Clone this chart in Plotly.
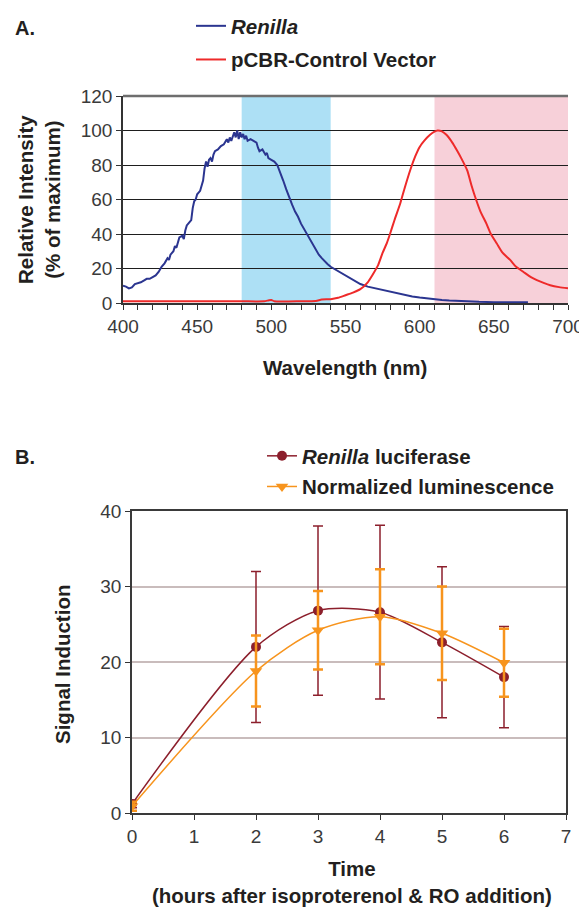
import plotly.graph_objects as go

# ---- panel A: emission spectra ----
renilla_nm = [400, 402, 404, 406, 408, 410, 412, 414, 416, 418, 420, 422, 424, 426, 428,
              430, 431, 432, 434, 435, 436, 437, 438, 440, 441, 442, 443, 445, 446, 447,
              448, 449, 450, 452, 453, 454, 455, 456, 457, 458, 459, 460, 461, 462, 464,
              466, 468, 469, 470, 471, 472, 473, 474, 475, 476, 477, 478, 479, 480, 481,
              482, 483, 484, 486, 488, 490, 491, 492, 494, 496, 497, 498, 500, 502, 504,
              506, 508, 510, 512, 514, 516, 518, 520, 522, 524, 526, 528, 530, 532, 534,
              536, 538, 540, 544, 548, 552, 556, 560, 565, 570, 575, 580, 585, 590, 595,
              600, 605, 610, 615, 620, 625, 630, 640, 650, 660, 673]
renilla_int = [10, 9.5, 8.5, 9, 11, 11.5, 12, 13, 14, 14, 15, 16, 18, 21, 23,
               26, 25, 28, 30, 33, 32, 35, 38, 39, 37, 42, 45, 47, 48, 55,
               59, 60, 63, 65, 69, 71, 78, 82, 79, 83, 84, 82, 86, 88, 89,
               91, 92, 94, 95, 93, 96, 94, 97, 99, 96, 100, 95, 99, 96, 98,
               95, 97, 94, 95, 94, 93, 90, 88, 89, 86, 87, 84, 83, 82, 80,
               76, 71, 66, 61, 57, 53, 50, 46, 43, 40, 37, 34, 31, 28, 26,
               24, 22.5, 21, 19, 16.5, 15, 13, 11, 9.5, 8.5, 7.5, 6.5, 5.5, 4.5, 3.8,
               3.2, 2.6, 2.2, 1.8, 1.5, 1.2, 1.0, 0.7, 0.5, 0.5, 0.5]

cbr_nm = [400, 420, 450, 480, 495, 498, 500, 502, 520, 530, 534, 540, 545, 550, 555,
          560, 565, 568, 572, 575, 578, 580, 583, 587, 590, 594, 597, 600, 603, 607,
          610, 612, 615, 618, 622, 625, 628, 632, 635, 638, 641, 645, 648, 652, 656,
          661, 665, 670, 675, 679, 684, 688, 694, 700]
cbr_int = [1, 1, 1, 1, 1, 1.5, 1.8, 1, 1, 1.2, 2, 2.2, 3, 4.5, 6,
           8, 12, 16, 22, 29, 35, 40, 48, 58, 67, 78, 85, 90.5, 94, 97.5,
           99.3, 100, 99.5, 97.5, 93, 88.7, 84, 77, 68, 60, 53, 46, 40, 34.5, 29,
           25, 21, 18, 15, 13.3, 11.5, 10.3, 9.2, 8.5]

# detection windows shaded behind the spectra
blue_band = [480, 540]
red_band = [610, 700]

# ---- panel B: time course ----
hours = [0, 2, 3, 4, 5, 6]
renilla_luc = [1.2, 22.0, 26.8, 26.6, 22.6, 18.0]
renilla_luc_err = [0.5, 10.0, 11.2, 11.5, 10.0, 6.7]
norm_lum = [0.9, 18.8, 24.2, 26.0, 23.8, 19.9]
norm_lum_err = [0.6, 4.7, 5.2, 6.3, 6.2, 4.5]

# page body has an 8px margin, so the figure is drawn 8px in from the corner
PAD = 8
W, H = 587 - PAD, 907 - PAD
BOLD = "Liberation Sans"
INK = "#231f20"
TICKFONT = dict(family="Liberation Sans", size=19, color="#3a3a3a")


def px(x):
    return (x - PAD) / W


def py(y):
    return 1 - (y - PAD) / H


fig = go.Figure()

fig.add_trace(go.Scatter(x=renilla_nm, y=renilla_int, mode="lines", name="<i>Renilla</i>",
                         line=dict(color="#2b3590", width=2), legend="legend", legendgroup="a1",
                         xaxis="x", yaxis="y"))
fig.add_trace(go.Scatter(x=cbr_nm, y=cbr_int, mode="lines", name="pCBR-Control Vector",
                         line=dict(color="#ee2a2a", width=2, shape="spline", smoothing=0.6),
                         legend="legend", legendgroup="a2", xaxis="x", yaxis="y"))

fig.add_trace(go.Scatter(x=hours, y=renilla_luc, mode="lines+markers",
                         name="<i>Renilla</i> luciferase",
                         line=dict(color="#8c1f2c", width=1.5, shape="spline", smoothing=0.8),
                         marker=dict(symbol="circle", size=10, color="#8c1f2c"),
                         error_y=dict(type="data", array=renilla_luc_err, color="#8c1f2c",
                                      thickness=1.5, width=5),
                         legend="legend2", legendgroup="b1", xaxis="x2", yaxis="y2"))
fig.add_trace(go.Scatter(x=hours, y=norm_lum, mode="lines+markers",
                         name="Normalized luminescence",
                         line=dict(color="#f7941d", width=1.5, shape="spline", smoothing=0.8),
                         marker=dict(symbol="triangle-down", size=11, color="#f7941d"),
                         error_y=dict(type="data", array=norm_lum_err, color="#f7941d",
                                      thickness=2.5, width=5),
                         legend="legend2", legendgroup="b2", xaxis="x2", yaxis="y2"))

# coloured detection bands
for band, col in [(blue_band, "#ade0f5"), (red_band, "#f7d0d9")]:
    fig.add_shape(type="rect", xref="x", yref="y domain", x0=band[0], x1=band[1], y0=0, y1=1,
                  fillcolor=col, line_width=0, layer="below")
fig.add_shape(type="line", xref="x domain", yref="y domain", x0=0, x1=1, y0=1, y1=1,
              line=dict(color="#6e6e6e", width=2.5))

legend_font = dict(family=BOLD, size=20.5, color=INK, weight="bold")

fig.update_layout(
    width=W, height=H,
    margin=dict(l=0, r=0, t=0, b=0, autoexpand=False),
    paper_bgcolor="white", plot_bgcolor="white",
    showlegend=True,
    legend=dict(x=px(191), y=py(6), xanchor="left", yanchor="top", font=legend_font,
                bgcolor="rgba(0,0,0,0)", tracegroupgap=4, itemwidth=30),
    legend2=dict(x=px(262), y=py(436), xanchor="left", yanchor="top", font=legend_font,
                 bgcolor="rgba(0,0,0,0)", tracegroupgap=1, itemwidth=30),
    xaxis=dict(domain=[px(123), px(568)], anchor="y", range=[400, 700], dtick=50,
               showgrid=False, zeroline=False, showline=True, linecolor="#333", linewidth=1.5,
               ticks="outside", ticklen=5, tickcolor="#333", tickfont=TICKFONT,
               minor=dict(dtick=10, ticks="outside", ticklen=5, tickcolor="#333",
                          showgrid=False)),
    yaxis=dict(domain=[py(303), py(96)], anchor="x", range=[0, 120], dtick=20,
               showgrid=True, gridcolor="#1e1e1e", gridwidth=1, zeroline=False,
               showline=True, linecolor="#333", linewidth=1.5,
               ticks="outside", ticklen=5, tickcolor="#333", tickfont=TICKFONT),
    xaxis2=dict(domain=[px(132), px(566)], anchor="y2", range=[0, 7], dtick=1,
                showgrid=False, zeroline=False, showline=True, mirror=True,
                linecolor="#3a3a3a", linewidth=1.5,
                ticks="outside", ticklen=5, tickcolor="#333", tickfont=TICKFONT),
    yaxis2=dict(domain=[py(813), py(511)], anchor="x2", range=[0, 40], dtick=10,
                showgrid=True, gridcolor="#c9bcbc", gridwidth=1.5, zeroline=False,
                showline=True, mirror=True, linecolor="#3a3a3a", linewidth=1.5,
                ticks="outside", ticklen=5, tickcolor="#333", tickfont=TICKFONT),
)

title_font = dict(family=BOLD, size=20.5, color=INK, weight="bold")
label_font = dict(family=BOLD, size=20, color=INK, weight="bold")
annotations = [
    dict(text="A.", x=px(13), y=py(28), xanchor="left", yanchor="middle", font=label_font),
    dict(text="B.", x=px(13), y=py(457), xanchor="left", yanchor="middle", font=label_font),
    dict(text="Relative Intensity<br>(% of maximum)", x=px(39), y=py(200), textangle=-90,
         xanchor="center", yanchor="middle", font=title_font),
    dict(text="Wavelength (nm)", x=px(345), y=py(367), xanchor="center", yanchor="middle",
         font=title_font),
    dict(text="Signal Induction", x=px(62), y=py(665), textangle=-90,
         xanchor="center", yanchor="middle", font=title_font),
    dict(text="Time<br>(hours after isoproterenol &amp; RO addition)", x=px(352), y=py(882),
         xanchor="center", yanchor="middle", font=title_font),
]
for a in annotations:
    fig.add_annotation(xref="paper", yref="paper", showarrow=False, **a)

fig.write_html("out.html")
